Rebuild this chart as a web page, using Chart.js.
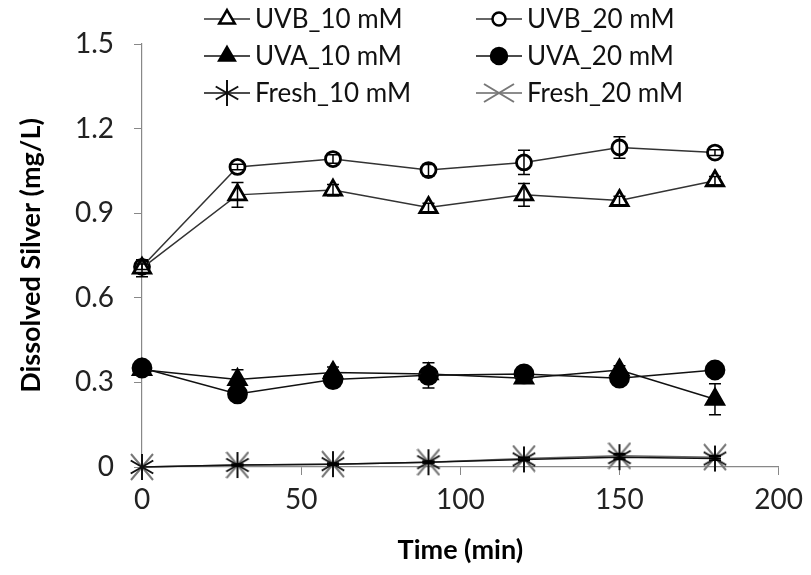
<!DOCTYPE html>
<html>
<head>
<meta charset="utf-8">
<script src="https://cdn.jsdelivr.net/npm/chart.js@4"></script>
<style>
  html, body { margin: 0; padding: 0; background: #fff; }
  #wrap { width: 811px; height: 575px; }
</style>
</head>
<body>
<div id="wrap"><canvas id="chart" width="811" height="575"></canvas></div>
<script>
// time points (min) and tick labels
const times = [0, 30, 60, 90, 120, 150, 180];
const xTicks = [0, 50, 100, 150, 200];
const yTicks = [0, 0.3, 0.6, 0.9, 1.2, 1.5];

// dissolved silver (mg/L)
const uvb10 = [0.705, 0.965, 0.982, 0.92, 0.965, 0.945, 1.015];
const uvb20 = [0.71, 1.064, 1.092, 1.053, 1.08, 1.133, 1.115];
const uva10 = [0.345, 0.31, 0.335, 0.33, 0.315, 0.344, 0.24];
const uva20 = [0.351, 0.259, 0.31, 0.325, 0.33, 0.315, 0.344];
const fresh10 = [0, 0.007, 0.01, 0.017, 0.027, 0.035, 0.03];
const fresh20 = [0, 0.007, 0.01, 0.017, 0.03, 0.04, 0.035];

// error bars (+/-)
const uvb10Err = [0.03, 0.044, 0.02, 0.015, 0.04, 0.015, 0.015];
const uvb20Err = [0.01, 0.01, 0.015, 0.02, 0.043, 0.038, 0.01];
const uva10Err = [0.01, 0.035, 0.02, 0.01, 0.01, 0.015, 0.055];
const uva20Err = [0.01, 0.01, 0.01, 0.045, 0.01, 0.01, 0.01];
const fresh10Err = [0, 0.003, 0.003, 0.003, 0.005, 0.008, 0.006];
const fresh20Err = [0, 0.003, 0.003, 0.003, 0.005, 0.008, 0.006];

const FONT = 'Lato, "Open Sans", sans-serif';

// 6-spoke asterisk marker
function makeAsterisk(size, color) {
  const c = document.createElement('canvas');
  c.width = size; c.height = size;
  const g = c.getContext('2d');
  const r = size / 2 - 1, m = size / 2;
  g.strokeStyle = color; g.lineWidth = 2;
  [90, 30, -30].forEach(function(a) {
    const t = a * Math.PI / 180;
    g.beginPath();
    g.moveTo(m - r * Math.cos(t), m - r * Math.sin(t));
    g.lineTo(m + r * Math.cos(t), m + r * Math.sin(t));
    g.stroke();
  });
  return c;
}
// X marker
function makeCross(w, h, color) {
  const c = document.createElement('canvas');
  c.width = w; c.height = h;
  const g = c.getContext('2d');
  g.strokeStyle = color; g.lineWidth = 2;
  g.beginPath();
  g.moveTo(1, 1); g.lineTo(w - 1, h - 1);
  g.moveTo(w - 1, 1); g.lineTo(1, h - 1);
  g.stroke();
  return c;
}
const asterisk = makeAsterisk(28, '#111');
const crossPlot = makeCross(24, 28, '#777');
const crossLegend = makeCross(32, 20, '#777');

function pts(arr) { return times.map(function(t, i) { return { x: t, y: arr[i] }; }); }

const series = [
  { label: 'UVB_10 mM', data: uvb10, err: uvb10Err, style: 'triangle', bg: '#fff', radius: 10, line: '#333' },
  { label: 'UVB_20 mM', data: uvb20, err: uvb20Err, style: 'circle', bg: '#fff', radius: 7.5, line: '#333' },
  { label: 'UVA_10 mM', data: uva10, err: uva10Err, style: 'triangle', bg: '#000', radius: 10, line: '#111' },
  { label: 'UVA_20 mM', data: uva20, err: uva20Err, style: 'circle', bg: '#000', radius: 9, line: '#111' },
  { label: 'Fresh_10 mM', data: fresh10, err: fresh10Err, style: asterisk, bg: '#000', radius: 14, line: '#111', legendStyle: asterisk },
  { label: 'Fresh_20 mM', data: fresh20, err: fresh20Err, style: crossPlot, bg: '#777', radius: 14, line: '#666', legendStyle: crossLegend }
];

const errorBars = {
  id: 'errorBars',
  afterDatasetsDraw(chart) {
    const ctx = chart.ctx, xs = chart.scales.x, ys = chart.scales.y;
    ctx.save();
    ctx.strokeStyle = '#000';
    ctx.lineWidth = 1.5;
    series.forEach(function(s) {
      times.forEach(function(t, i) {
        if (!s.err[i]) return;
        const x = xs.getPixelForValue(t);
        const y1 = ys.getPixelForValue(s.data[i] + s.err[i]);
        const y2 = ys.getPixelForValue(s.data[i] - s.err[i]);
        ctx.beginPath();
        ctx.moveTo(x, y1); ctx.lineTo(x, y2);
        ctx.moveTo(x - 6, y1); ctx.lineTo(x + 6, y1);
        ctx.moveTo(x - 6, y2); ctx.lineTo(x + 6, y2);
        ctx.stroke();
      });
    });
    ctx.restore();
  }
};

const legendPlugin = {
  id: 'customLegend',
  afterDraw(chart) {
    const ctx = chart.ctx;
    const colX = [204, 476];
    const rowY = [19, 56, 93];
    ctx.save();
    series.forEach(function(s, i) {
      const x0 = colX[i % 2], y = rowY[Math.floor(i / 2)];
      ctx.strokeStyle = s.line;
      ctx.lineWidth = 1.5;
      ctx.beginPath();
      ctx.moveTo(x0, y); ctx.lineTo(x0 + 46, y);
      ctx.stroke();
      ctx.fillStyle = s.bg;
      ctx.strokeStyle = '#000';
      ctx.lineWidth = 2.5;
      Chart.helpers.drawPoint(ctx, {
        pointStyle: s.legendStyle || s.style,
        radius: s.radius - 1,
        rotation: 0,
        borderWidth: 2.5
      }, x0 + 23, y);
      ctx.fillStyle = '#111';
      ctx.font = '26px ' + FONT;
      ctx.textBaseline = 'middle';
      ctx.textAlign = 'left';
      ctx.fillText(s.label, x0 + 51, y + 1);
    });
    ctx.restore();
  }
};

new Chart(document.getElementById('chart').getContext('2d'), {
  type: 'line',
  data: {
    datasets: series.map(function(s) {
      return {
        label: s.label,
        data: pts(s.data),
        borderColor: s.line,
        borderWidth: 1.5,
        pointStyle: s.style,
        pointRadius: s.radius,
        pointBackgroundColor: s.bg,
        pointBorderColor: '#000',
        pointBorderWidth: 2.8,
        fill: false,
        tension: 0,
        clip: false
      };
    })
  },
  options: {
    responsive: false,
    animation: false,
    layout: { padding: { top: 44, right: 28, left: 0, bottom: 0 } },
    plugins: { legend: { display: false }, tooltip: { enabled: false } },
    scales: {
      x: {
        type: 'linear',
        min: 0, max: 200,
        afterBuildTicks: function(scale) { scale.ticks = xTicks.map(function(v) { return { value: v }; }); },
        afterFit: function(scale) { scale.height = 108; },
        grid: { drawOnChartArea: false, drawTicks: true, tickLength: 8, color: '#888' },
        border: { color: '#888', width: 1.2 },
        ticks: { color: '#222', font: { family: FONT, size: 28 }, padding: 8, maxRotation: 0 },
        title: { display: true, text: 'Time (min)', color: '#000', font: { family: FONT, size: 27, weight: 'bold' }, padding: { top: 0, bottom: 9 } }
      },
      y: {
        min: 0, max: 1.5,
        afterBuildTicks: function(scale) { scale.ticks = yTicks.map(function(v) { return { value: v }; }); },
        afterFit: function(scale) { scale.width = 142; },
        grid: { drawOnChartArea: false, drawTicks: true, tickLength: 8, color: '#888' },
        border: { color: '#888', width: 1.2 },
        ticks: { color: '#222', font: { family: FONT, size: 28 }, padding: 20,
          callback: function(v) { return String(+v.toFixed(1)); } },
        title: { display: true, text: 'Dissolved Silver (mg/L)', color: '#000', font: { family: FONT, size: 27, weight: 'bold' }, padding: { top: 15, bottom: 0 } }
      }
    }
  },
  plugins: [errorBars, legendPlugin]
});
</script>
</body>
</html>
